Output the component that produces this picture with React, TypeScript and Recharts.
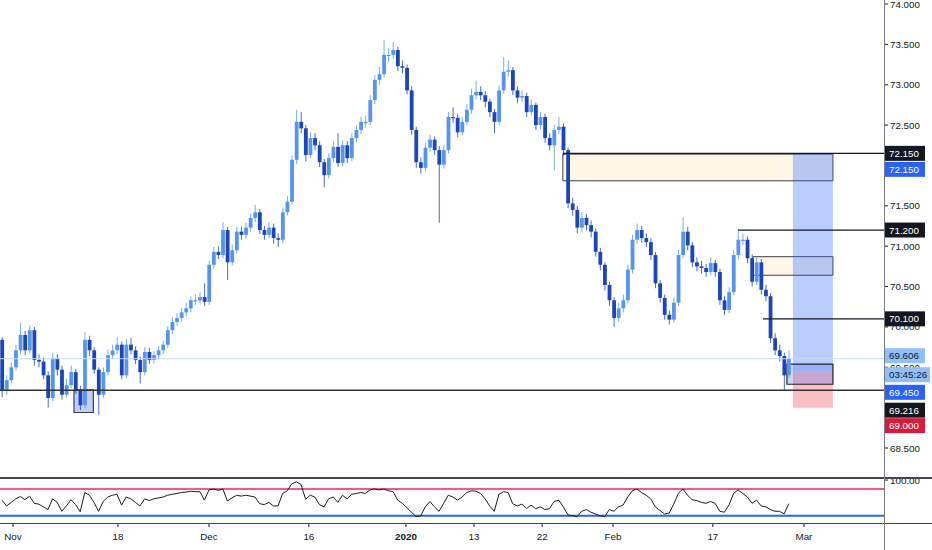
import React from 'react'
import { ComposedChart, Bar, Line, XAxis, YAxis, ReferenceLine, ReferenceArea } from 'recharts'

// 12h candles, open = previous close
const firstOpen = 69.84
const closes = [
  69.22, 69.34, 69.5, 69.71, 69.9, 69.71, 69.96, 69.59, 69.57, 69.4,
  69.12, 69.61, 69.47, 69.16, 69.28, 69.44, 69.22, 69.03, 69.84, 69.71,
  69.47, 69.16, 69.44, 69.65, 69.71, 69.78, 69.4, 69.78, 69.71, 69.59,
  69.44, 69.69, 69.59, 69.65, 69.71, 69.78, 69.96, 70.06, 70.11, 70.18,
  70.23, 70.33, 70.33, 70.37, 70.31, 70.77, 70.93, 70.89, 71.2, 70.8,
  70.95, 71.18, 71.14, 71.23, 71.35, 71.42, 71.2, 71.14, 71.23, 71.1,
  71.08, 71.42, 71.55, 72.07, 72.54, 72.46, 72.13, 72.34, 72.25, 72.04,
  71.88, 72.09, 72.23, 72.03, 72.25, 72.09, 72.34, 72.44, 72.54, 72.54,
  72.81, 73.06, 73.13, 73.37, 73.37, 73.43, 73.23, 73.21, 72.93, 72.44,
  72.04, 71.97, 72.22, 72.32, 72.19, 72.01, 72.19, 72.6, 72.59, 72.41,
  72.54, 72.69, 72.87, 72.91, 72.87, 72.79, 72.66, 72.54, 72.93, 73.16,
  73.18, 72.93, 72.84, 72.86, 72.66, 72.75, 72.5, 72.6, 72.34, 72.25,
  72.44, 72.48, 72.19, 71.53, 71.45, 71.23, 71.35, 71.26, 71.18, 70.93,
  70.77, 70.52, 70.33, 70.11, 70.23, 70.33, 70.71, 71.08, 71.2, 71.1,
  71.05, 70.89, 70.54, 70.36, 70.15, 70.09, 70.3, 70.89, 71.18, 71.01,
  70.8, 70.75, 70.73, 70.68, 70.79, 70.68, 70.33, 70.21, 70.43, 70.89,
  71.08, 71.08, 70.85, 70.56, 70.8, 70.46, 70.38, 69.86, 69.71, 69.64,
  69.4, 69.606,
]
const highs = [
  69.87, 69.4, 69.56, 69.78, 70.05, 69.95, 70.02, 70.0, 69.66, 69.62,
  69.45, 69.68, 69.66, 69.52, 69.36, 69.52, 69.48, 69.27, 69.94, 69.89,
  69.75, 69.5, 69.5, 69.72, 69.78, 69.87, 69.82, 69.85, 69.86, 69.76,
  69.63, 69.75, 69.74, 69.7, 69.76, 69.83, 70.01, 70.12, 70.17, 70.24,
  70.3, 70.38, 70.4, 70.43, 70.54, 70.82, 70.99, 71.0, 71.3, 71.24,
  71.02, 71.24, 71.24, 71.29, 71.4, 71.51, 71.46, 71.25, 71.3, 71.28,
  71.16, 71.48, 71.62, 72.12, 72.69, 72.66, 72.5, 72.41, 72.4, 72.3,
  72.08, 72.15, 72.3, 72.4, 72.31, 72.3, 72.4, 72.5, 72.6, 72.62,
  72.87, 73.12, 73.22, 73.55, 73.45, 73.53, 73.47, 73.3, 73.25, 72.98,
  72.48, 72.1, 72.28, 72.38, 72.36, 72.24, 72.25, 72.66, 72.72, 72.64,
  72.6, 72.76, 72.95, 73.05, 72.98, 72.92, 72.83, 72.7, 72.99, 73.34,
  73.3, 73.22, 72.98, 72.93, 72.9, 72.82, 72.78, 72.66, 72.64, 72.4,
  72.5, 72.6, 72.52, 72.22, 71.6, 71.5, 71.42, 71.4, 71.32, 71.22,
  70.98, 70.8, 70.56, 70.37, 70.3, 70.4, 70.77, 71.14, 71.28, 71.25,
  71.16, 71.1, 70.93, 70.58, 70.4, 70.2, 70.36, 70.95, 71.36, 71.24,
  71.05, 70.86, 70.82, 70.78, 70.86, 70.83, 70.72, 70.38, 70.49, 70.95,
  71.21, 71.15, 71.12, 70.9, 70.86, 70.84, 70.52, 70.42, 69.92, 69.78,
  69.68, 69.71,
]
const lows = [
  69.13, 69.16, 69.3, 69.46, 69.66, 69.65, 69.67, 69.52, 69.5, 69.35,
  69.0, 69.08, 69.4, 69.1, 69.12, 69.24, 69.17, 68.97, 68.99, 69.64,
  69.42, 68.91, 69.12, 69.4, 69.6, 69.66, 69.35, 69.36, 69.66, 69.54,
  69.3, 69.4, 69.54, 69.55, 69.6, 69.66, 69.74, 69.91, 70.01, 70.06,
  70.13, 70.18, 70.27, 70.29, 70.26, 70.27, 70.72, 70.84, 70.85, 70.58,
  70.76, 70.91, 71.08, 71.09, 71.18, 71.3, 71.15, 71.08, 71.1, 71.03,
  70.99, 71.04, 71.38, 71.52, 72.02, 72.4, 72.05, 72.09, 72.19, 71.98,
  71.73, 71.84, 72.04, 71.98, 71.99, 72.03, 72.05, 72.29, 72.39, 72.47,
  72.5, 72.76, 73.0, 73.09, 73.28, 73.32, 73.17, 73.14, 72.88, 72.38,
  71.97, 71.9, 71.93, 72.17, 72.13, 71.29, 71.96, 72.15, 72.53, 72.35,
  72.37, 72.5, 72.64, 72.82, 72.81, 72.72, 72.6, 72.4, 72.5, 72.89,
  73.1, 72.87, 72.77, 72.79, 72.6, 72.62, 72.44, 72.45, 72.28, 72.19,
  71.94, 72.39, 72.12, 71.47, 71.38, 71.16, 71.18, 71.2, 71.11, 70.87,
  70.7, 70.45, 70.26, 70.0, 70.06, 70.18, 70.29, 70.66, 71.03, 71.04,
  70.99, 70.83, 70.48, 70.3, 70.09, 70.03, 70.05, 70.26, 70.85, 70.95,
  70.74, 70.69, 70.66, 70.62, 70.64, 70.62, 70.27, 70.15, 70.17, 70.39,
  70.84, 71.01, 70.79, 70.5, 70.52, 70.4, 70.32, 69.8, 69.65, 69.57,
  69.216, 69.37,
]
const rsi = [
  55, 42, 50, 58, 63, 56, 64, 48, 46, 40,
  34, 58, 50, 30, 42, 56, 45, 29, 72, 66,
  50, 30, 52, 62, 66, 68, 44, 62, 58, 50,
  42, 58, 54, 58, 60, 62, 66, 68, 70, 72,
  73, 75, 74, 74, 55, 78, 80, 77, 80, 53,
  60, 66, 64, 66, 64, 62, 47, 45, 50, 42,
  42, 70, 76, 92, 96, 90, 57, 66, 62, 45,
  40, 58, 62, 50, 66, 58, 68, 70, 72, 70,
  78, 80, 78, 80, 76, 74, 55, 48, 38, 28,
  18, 20, 40, 52, 40, 30, 48, 66, 62, 55,
  62, 72, 76, 75, 70, 58, 42, 30, 68, 74,
  72, 47, 42, 46, 36, 44, 36, 40, 34, 36,
  52, 55, 40, 22, 20, 18, 30, 34, 28, 24,
  20, 18, 34, 30, 40, 44, 62, 76, 80, 72,
  66, 58, 40, 32, 24, 26, 46, 70, 80, 66,
  56, 54, 50, 48, 52, 48, 30, 28, 44, 70,
  78, 70, 62, 48, 55, 42, 40, 34, 30, 30,
  24, 47,
]

// candle index where each date label sits
const dateTicks = [
  { at: 2.4, label: 'Nov' },
  { at: 25.2, label: '18' },
  { at: 45.0, label: 'Dec' },
  { at: 66.7, label: '16' },
  { at: 87.8, label: '2020', bold: true },
  { at: 102.6, label: '13' },
  { at: 117.4, label: '22' },
  { at: 132.8, label: 'Feb' },
  { at: 154.5, label: '17' },
  { at: 174.3, label: 'Mar' },
]
// 72.000 and 69.000 sit fully under the price badges, as in the source
const priceTicks = [68.5, 69.5, 70, 70.5, 71, 71.5, 72.5, 73, 73.5, 74]

// drawn levels (from candle index)
const target = 72.15
const entry = 69.45
const stop = 69.0
const lastPrice = 69.606
const swingLow = 69.216
const levelLines = [
  { from: 121.9, y: 72.15 },
  { from: 160.0, y: 71.2 },
  { from: 165.4, y: 70.1 },
]
const supplyZones = [
  { x1: 121.9, x2: 180.6, y1: 71.81, y2: 72.14 },
  { x1: 163.2, x2: 180.6, y1: 70.64, y2: 70.87 },
]
const positionX = [171.9, 180.6]
const entryBox = { x1: 170.6, x2: 180.6, y1: 69.29, y2: 69.54 }
const lowBox = { x1: 15.65, x2: 19.85, y1: 68.94, y2: 69.22 }

const badges = [
  { value: 72.15, text: '72.150', bg: '#131722', fg: '#fff', dy: 0 },
  { value: 72.15, text: '72.150', bg: '#2962ff', fg: '#fff', dy: 16 },
  { value: 71.2, text: '71.200', bg: '#131722', fg: '#fff', dy: 0 },
  { value: 70.1, text: '70.100', bg: '#131722', fg: '#fff', dy: 0 },
  { value: 69.606, text: '69.606', bg: '#90bff9', fg: '#131722', dy: -3 },
  { value: 69.606, text: '03:45:26', bg: '#90bff9', fg: '#131722', dy: 16, w: 46 },
  { value: 69.45, text: '69.450', bg: '#2962ff', fg: '#fff', dy: 21 },
  { value: 69.216, text: '69.216', bg: '#131722', fg: '#fff', dy: 20 },
  { value: 69.0, text: '69.000', bg: '#d81b3c', fg: '#fff', dy: 18 },
]

const candles = closes.map((c, i) => ({
  i,
  o: i === 0 ? firstOpen : closes[i - 1],
  c,
  h: highs[i],
  l: lows[i],
  rsi: rsi[i],
}))

const X_DOMAIN: [number, number] = [-0.43, 191.7]
const FONT = '"Liberation Sans", Arial, sans-serif'
const UP = '#5595f2'
const DOWN = '#1b45bd'
const TXT = '#131722'

function Candle(props: any) {
  const { x, y, width, height, payload } = props
  if (x == null || y == null || !payload) return null
  const top = Math.min(y, y + height)
  const bot = Math.max(y, y + height)
  const { o, c, h, l } = payload
  const k = (bot - top) / (h - l || 1)
  const py = (v: number) => top + (h - v) * k
  const cx = x + width / 2
  const col = c >= o ? UP : DOWN
  const b1 = py(Math.max(o, c))
  const b2 = py(Math.min(o, c))
  return (
    <g>
      <line x1={cx} x2={cx} y1={top} y2={bot} stroke={col} strokeOpacity={0.8} strokeWidth={1} />
      <rect x={cx - 1.9} y={b1} width={3.8} height={Math.max(1.2, b2 - b1)} fill={col} />
    </g>
  )
}

function PriceTick(props: any) {
  const { x, y, index, payload } = props
  const b = badges[index - priceTicks.length]
  if (index >= priceTicks.length && b) {
    const cy = y + b.dy
    return (
      <g>
        <rect x={x} y={cy - 7.5} width={b.w ?? 41} height={15} fill={b.bg} />
        <text x={x + 5} y={cy + 3.5} fill={b.fg} fontSize={9.8} fontFamily={FONT}>
          {b.text}
        </text>
      </g>
    )
  }
  return (
    <g>
      <line x1={x} x2={x + 4} y1={y} y2={y} stroke={TXT} />
      <text x={x + 6} y={y + 3.5} fill={TXT} fontSize={9.8} fontFamily={FONT}>
        {Number(payload.value).toFixed(3)}
      </text>
    </g>
  )
}

function RsiTick(props: any) {
  const { x, y, payload } = props
  return (
    <g>
      <line x1={x} x2={x + 4} y1={y} y2={y} stroke={TXT} />
      <text x={x + 6} y={y + 3.5} fill={TXT} fontSize={9.8} fontFamily={FONT}>
        {Number(payload.value).toFixed(2)}
      </text>
    </g>
  )
}

function DateTick(props: any) {
  const { x, y, index } = props
  const t = dateTicks[index]
  if (!t) return null
  return (
    <g>
      <line x1={x} x2={x} y1={y} y2={y + 4} stroke={TXT} />
      <text
        x={x}
        y={y + 17}
        textAnchor="middle"
        fill={TXT}
        fontSize={9.8}
        fontWeight={t.bold ? 700 : 400}
        fontFamily={FONT}
      >
        {t.label}
      </text>
    </g>
  )
}

export default function App() {
  return (
    <div
      style={{
        position: 'absolute',
        left: 0,
        top: 0,
        width: 932,
        height: 550,
        background: '#fff',
        overflow: 'hidden',
      }}
    >
      <div style={{ position: 'absolute', left: 0, top: 0 }}>
        <ComposedChart width={932} height={478} data={candles} margin={{ top: 0, right: 0, bottom: 0, left: 0 }}>
          <XAxis dataKey="i" type="number" domain={X_DOMAIN} allowDataOverflow hide />
          <YAxis
            orientation="right"
            width={48}
            domain={[68.1285, 74.0495]}
            allowDataOverflow
            ticks={[...priceTicks, ...badges.map((b) => b.value)]}
            interval={0}
            tick={<PriceTick />}
            tickSize={0}
            tickMargin={0}
            axisLine={false}
            tickLine={false}
          />
          {supplyZones.map((z, k) => (
            <ReferenceArea key={'z' + k} x1={z.x1} x2={z.x2} y1={z.y1} y2={z.y2} fill="#fef7e8" fillOpacity={1} stroke="#3c3f48" strokeWidth={1} />
          ))}
          <ReferenceArea x1={positionX[0]} x2={positionX[1]} y1={entry} y2={target} fill="#2962ff" fillOpacity={0.32} stroke="none" />
          <ReferenceArea x1={positionX[0]} x2={positionX[1]} y1={stop} y2={entry} fill="#f23645" fillOpacity={0.32} stroke="none" />
          <ReferenceArea x1={entryBox.x1} x2={entryBox.x2} y1={entryBox.y1} y2={entryBox.y2} fill="#2962ff" fillOpacity={0.25} stroke="#222" strokeWidth={1.2} />
          <ReferenceArea x1={lowBox.x1} x2={lowBox.x2} y1={lowBox.y1} y2={lowBox.y2} fill="#2962ff" fillOpacity={0.3} stroke="#3c3f48" strokeWidth={1.2} />
          <ReferenceLine y={lastPrice} stroke="#c4dcfb" strokeWidth={1} />
          <ReferenceLine y={swingLow} stroke="#333" strokeWidth={1.5} />
          {levelLines.map((l, k) => (
            <ReferenceLine
              key={'l' + k}
              segment={[
                { x: l.from, y: l.y },
                { x: X_DOMAIN[1], y: l.y },
              ]}
              stroke="#131722"
              strokeWidth={1.2}
            />
          ))}
          <Bar dataKey={(d: any) => [d.l, d.h]} barSize={3} shape={<Candle />} isAnimationActive={false} />
        </ComposedChart>
      </div>
      <div style={{ position: 'absolute', left: 0, top: 478 }}>
        <ComposedChart width={932} height={72} data={candles} margin={{ top: 0, right: 0, bottom: 0, left: 0 }}>
          <XAxis
            dataKey="i"
            type="number"
            domain={X_DOMAIN}
            allowDataOverflow
            ticks={dateTicks.map((t) => t.at)}
            interval={0}
            tick={<DateTick />}
            tickSize={0}
            tickMargin={0}
            axisLine={false}
            tickLine={false}
            height={27}
          />
          <YAxis
            orientation="right"
            width={48}
            domain={[3.8, 104.6]}
            allowDataOverflow
            ticks={[100]}
            interval={0}
            tick={<RsiTick />}
            tickSize={0}
            tickMargin={0}
            axisLine={false}
            tickLine={false}
          />
          <ReferenceLine y={80} stroke="#f0245a" strokeWidth={1.5} />
          <ReferenceLine y={20} stroke="#2962ff" strokeWidth={2} />
          <Line dataKey="rsi" type="linear" stroke="#1e1e1e" strokeWidth={1} dot={false} isAnimationActive={false} />
        </ComposedChart>
      </div>
      <div style={{ position: 'absolute', left: 0, top: 477, width: 932, height: 1.5, background: '#434651' }} />
      <div style={{ position: 'absolute', left: 0, top: 522.5, width: 932, height: 1.2, background: '#434651' }} />
      <div style={{ position: 'absolute', left: 883.5, top: 0, width: 1.2, height: 550, background: '#7b7e87' }} />
    </div>
  )
}
